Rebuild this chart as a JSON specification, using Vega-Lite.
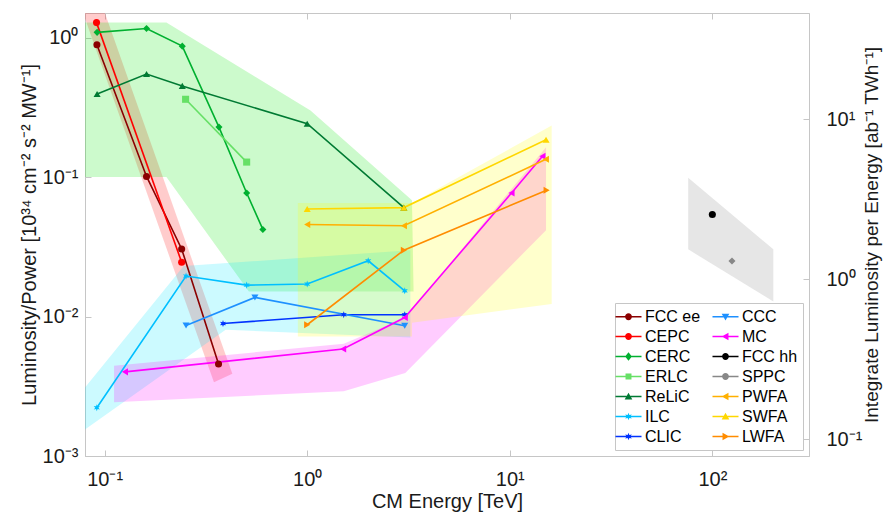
{
  "$schema": "https://vega.github.io/schema/vega-lite/v6.json",
  "width": 724,
  "height": 443,
  "autosize": {"type": "none"},
  "padding": {"left": 85, "top": 13, "right": 74, "bottom": 59},
  "background": "white",
  "config": {
    "font": "Liberation Sans",
    "view": {"stroke": "#c6c6c6", "strokeWidth": 1},
    "axis": {
      "grid": false,
      "domainColor": "#c6c6c6",
      "tickColor": "#c6c6c6",
      "labelColor": "#1a1a1a",
      "titleColor": "#1a1a1a",
      "labelFontSize": 20,
      "titleFontSize": 20,
      "titleFontWeight": "normal",
      "tickSize": -6,
      "labelPadding": 13
    },
    "legend": {
      "orient": "bottom-right",
      "columns": 2,
      "symbolSize": 289,
      "labelFontSize": 16,
      "labelColor": "#000000",
      "labelOffset": 8,
      "rowPadding": 3,
      "columnPadding": 11,
      "padding": 5,
      "strokeColor": "#c6c6c6",
      "fillColor": "white",
      "offset": 6,
      "symbolStrokeWidth": 0
    }
  },
  "datasets": {
    "series": [
      {"s": "FCC ee", "x": 0.0916, "y": 0.887},
      {"s": "FCC ee", "x": 0.161, "y": 0.101},
      {"s": "FCC ee", "x": 0.240, "y": 0.0305},
      {"s": "FCC ee", "x": 0.365, "y": 0.00457},
      {"s": "CEPC", "x": 0.0912, "y": 1.28},
      {"s": "CEPC", "x": 0.240, "y": 0.0245},
      {"s": "CERC", "x": 0.0918, "y": 1.09},
      {"s": "CERC", "x": 0.161, "y": 1.16},
      {"s": "CERC", "x": 0.2417, "y": 0.868},
      {"s": "CERC", "x": 0.3667, "y": 0.228},
      {"s": "CERC", "x": 0.5025, "y": 0.0769},
      {"s": "CERC", "x": 0.604, "y": 0.0421},
      {"s": "ERLC", "x": 0.251, "y": 0.361},
      {"s": "ERLC", "x": 0.5025, "y": 0.128},
      {"s": "ReLiC", "x": 0.0918, "y": 0.394},
      {"s": "ReLiC", "x": 0.161, "y": 0.548},
      {"s": "ReLiC", "x": 0.2417, "y": 0.45},
      {"s": "ReLiC", "x": 1.0, "y": 0.241},
      {"s": "ReLiC", "x": 3.0, "y": 0.0604},
      {"s": "ILC", "x": 0.0915, "y": 0.00222},
      {"s": "ILC", "x": 0.2523, "y": 0.0195},
      {"s": "ILC", "x": 0.5025, "y": 0.0168},
      {"s": "ILC", "x": 1.0, "y": 0.0171},
      {"s": "ILC", "x": 2.0, "y": 0.0251},
      {"s": "ILC", "x": 3.03, "y": 0.0153},
      {"s": "CLIC", "x": 0.384, "y": 0.00891},
      {"s": "CLIC", "x": 1.515, "y": 0.0103},
      {"s": "CLIC", "x": 3.03, "y": 0.0103},
      {"s": "CCC", "x": 0.2523, "y": 0.00863},
      {"s": "CCC", "x": 0.552, "y": 0.0137},
      {"s": "CCC", "x": 3.03, "y": 0.00858},
      {"s": "MC", "x": 0.126, "y": 0.00401},
      {"s": "MC", "x": 1.504, "y": 0.00585},
      {"s": "MC", "x": 3.03, "y": 0.00984},
      {"s": "MC", "x": 10.2, "y": 0.0769},
      {"s": "MC", "x": 14.5, "y": 0.141},
      {"s": "FCC hh", "x": 100, "y": 0.0539},
      {"s": "SPPC", "x": 125, "y": 0.025},
      {"s": "PWFA", "x": 1.0, "y": 0.0457},
      {"s": "PWFA", "x": 3.0, "y": 0.0447},
      {"s": "PWFA", "x": 15.07, "y": 0.134},
      {"s": "SWFA", "x": 1.0, "y": 0.059},
      {"s": "SWFA", "x": 3.0, "y": 0.0604},
      {"s": "SWFA", "x": 15.1, "y": 0.185},
      {"s": "LWFA", "x": 1.0, "y": 0.00873},
      {"s": "LWFA", "x": 3.0, "y": 0.0299},
      {"s": "LWFA", "x": 15.2, "y": 0.0804}
    ],
    "bands": [
      {"b": "ee", "i": 1, "x": 0.0716, "y": 2.16},
      {"b": "ee", "i": 2, "x": 0.0918, "y": 2.16},
      {"b": "ee", "i": 3, "x": 0.427, "y": 0.00388},
      {"b": "ee", "i": 4, "x": 0.3465, "y": 0.00338},
      {"b": "ring", "i": 1, "x": 0.08, "y": 1.28},
      {"b": "ring", "i": 2, "x": 0.2018, "y": 1.28},
      {"b": "ring", "i": 3, "x": 1.038, "y": 0.2996},
      {"b": "ring", "i": 4, "x": 3.29, "y": 0.0682},
      {"b": "ring", "i": 5, "x": 3.35, "y": 0.0151},
      {"b": "ring", "i": 6, "x": 0.5155, "y": 0.0151},
      {"b": "ring", "i": 7, "x": 0.2018, "y": 0.1},
      {"b": "ring", "i": 8, "x": 0.08, "y": 0.1},
      {"b": "lin", "i": 1, "x": 0.08, "y": 0.00155},
      {"b": "lin", "i": 2, "x": 0.08, "y": 0.0031},
      {"b": "lin", "i": 3, "x": 0.2456, "y": 0.023},
      {"b": "lin", "i": 4, "x": 3.23, "y": 0.0299},
      {"b": "lin", "i": 5, "x": 3.23, "y": 0.00708},
      {"b": "lin", "i": 6, "x": 0.3958, "y": 0.00804},
      {"b": "muon", "i": 1, "x": 0.1113, "y": 0.00444},
      {"b": "muon", "i": 2, "x": 1.515, "y": 0.00638},
      {"b": "muon", "i": 3, "x": 3.05, "y": 0.0098},
      {"b": "muon", "i": 4, "x": 15.1, "y": 0.1638},
      {"b": "muon", "i": 5, "x": 15.1, "y": 0.0416},
      {"b": "muon", "i": 6, "x": 3.05, "y": 0.00394},
      {"b": "muon", "i": 7, "x": 1.515, "y": 0.00291},
      {"b": "muon", "i": 8, "x": 0.1113, "y": 0.00243},
      {"b": "wfa", "i": 1, "x": 0.899, "y": 0.0652},
      {"b": "wfa", "i": 2, "x": 3.29, "y": 0.0652},
      {"b": "wfa", "i": 3, "x": 16.1, "y": 0.234},
      {"b": "wfa", "i": 4, "x": 16.1, "y": 0.0123},
      {"b": "wfa", "i": 5, "x": 3.29, "y": 0.00902},
      {"b": "wfa", "i": 6, "x": 3.29, "y": 0.0072},
      {"b": "wfa", "i": 7, "x": 0.899, "y": 0.0072},
      {"b": "hh", "i": 1, "x": 76, "y": 0.099},
      {"b": "hh", "i": 2, "x": 200, "y": 0.0303},
      {"b": "hh", "i": 3, "x": 200, "y": 0.0128},
      {"b": "hh", "i": 4, "x": 76, "y": 0.0303}
    ],
    "axisrow": [{"x": 1, "r": 1}]
  },
  "layer": [
    {
      "layer": [
        {
          "data": {"name": "bands"},
          "mark": {"type": "line", "clip": true, "strokeWidth": 0, "fillOpacity": 0.2, "interpolate": "linear-closed"},
          "encoding": {
            "x": {"field": "x", "type": "quantitative", "scale": {"type": "log", "domain": [0.08, 300], "nice": false}},
            "y": {"field": "y", "type": "quantitative", "scale": {"type": "log", "domain": [0.001, 1.5], "nice": false}},
            "order": {"field": "i", "type": "quantitative"},
            "detail": {"field": "b"},
            "fill": {"field": "b", "type": "nominal", "legend": null,
              "scale": {"domain": ["ee", "ring", "lin", "muon", "wfa", "hh"], "range": ["#ff0000", "#00e600", "#00e6ff", "#ff00ff", "#ffff00", "#808080"]}}
          }
        },
        {
          "data": {"name": "series"},
          "mark": {"type": "line", "strokeWidth": 1.6, "clip": true},
          "encoding": {
            "x": {"field": "x", "type": "quantitative", "scale": {"type": "log", "domain": [0.08, 300], "nice": false}},
            "y": {"field": "y", "type": "quantitative", "scale": {"type": "log", "domain": [0.001, 1.5], "nice": false}},
            "color": {"field": "s", "type": "nominal", "legend": null,
              "scale": {"domain": ["FCC ee", "CEPC", "CERC", "ERLC", "ReLiC", "ILC", "CLIC", "CCC", "MC", "FCC hh", "SPPC", "PWFA", "SWFA", "LWFA"],
                        "range": ["#8b0000", "#ff0000", "#00b030", "#66e066", "#007a33", "#00bfff", "#0033ff", "#1e90ff", "#ff00ff", "#000000", "#888888", "#ffb000", "#ffd700", "#ff8c00"]}}
          }
        },
        {
          "data": {"name": "series"},
          "mark": {"type": "point", "filled": true, "opacity": 1, "size": 50, "clip": true},
          "encoding": {
            "x": {"field": "x", "type": "quantitative", "scale": {"type": "log", "domain": [0.08, 300], "nice": false},
              "axis": {"values": [0.1, 1, 10, 100], "title": "CM Energy [TeV]", "titlePadding": 2, "labelPadding": 19,
                "labelExpr": "round(log(datum.value)/LN10) == -1 ? '10⁻¹' : round(log(datum.value)/LN10) == 0 ? '10⁰' : round(log(datum.value)/LN10) == 1 ? '10¹' : '10²'"}},
            "y": {"field": "y", "type": "quantitative", "scale": {"type": "log", "domain": [0.001, 1.5], "nice": false},
              "axis": {"orient": "left", "values": [0.001, 0.01, 0.1, 1], "title": "Luminosity/Power [10³⁴ cm⁻² s⁻² MW⁻¹]", "titlePadding": 3,
                "labelExpr": "round(log(datum.value)/LN10) == -3 ? '10⁻³' : round(log(datum.value)/LN10) == -2 ? '10⁻²' : round(log(datum.value)/LN10) == -1 ? '10⁻¹' : '10⁰'"}},
            "color": {"field": "s", "type": "nominal", "legend": null,
              "scale": {"domain": ["FCC ee", "CEPC", "CERC", "ERLC", "ReLiC", "ILC", "CLIC", "CCC", "MC", "FCC hh", "SPPC", "PWFA", "SWFA", "LWFA"],
                        "range": ["#8b0000", "#ff0000", "#00b030", "#66e066", "#007a33", "#00bfff", "#0033ff", "#1e90ff", "#ff00ff", "#000000", "#888888", "#ffb000", "#ffd700", "#ff8c00"]}},
            "shape": {"field": "s", "type": "nominal", "legend": null,
              "scale": {"domain": ["FCC ee", "CEPC", "CERC", "ERLC", "ReLiC", "ILC", "CLIC", "CCC", "MC", "FCC hh", "SPPC", "PWFA", "SWFA", "LWFA"],
                        "range": ["circle", "circle", "diamond", "square", "triangle-up",
                          "M0,-1L0.22,-0.39L0.87,-0.5L0.45,0L0.87,0.5L0.22,0.39L0,1L-0.22,0.39L-0.87,0.5L-0.45,0L-0.87,-0.5L-0.22,-0.39Z",
                          "M0,-1L0.22,-0.39L0.87,-0.5L0.45,0L0.87,0.5L0.22,0.39L0,1L-0.22,0.39L-0.87,0.5L-0.45,0L-0.87,-0.5L-0.22,-0.39Z",
                          "triangle-down", "triangle-left", "circle", "diamond", "triangle-left", "triangle-up", "triangle-right"]}}
          }
        }
      ]
    },
    {
      "data": {"name": "series"},
      "mark": {"type": "point", "filled": true, "opacity": 1, "clip": true},
      "encoding": {
        "x": {"datum": 0.001, "type": "quantitative", "axis": null},
        "color": {"field": "s", "type": "nominal", "title": null,
          "scale": {"domain": ["FCC ee", "CEPC", "CERC", "ERLC", "ReLiC", "ILC", "CLIC", "CCC", "MC", "FCC hh", "SPPC", "PWFA", "SWFA", "LWFA"],
                    "range": ["#8b0000", "#ff0000", "#00b030", "#66e066", "#007a33", "#00bfff", "#0033ff", "#1e90ff", "#ff00ff", "#000000", "#888888", "#ffb000", "#ffd700", "#ff8c00"]}},
        "shape": {"field": "s", "type": "nominal", "title": null,
          "scale": {"domain": ["FCC ee", "CEPC", "CERC", "ERLC", "ReLiC", "ILC", "CLIC", "CCC", "MC", "FCC hh", "SPPC", "PWFA", "SWFA", "LWFA"],
                    "range": [
                      "M-1.53,-0.09H1.53V0.09H-1.53ZM-0.4,0A0.4,0.4 0 1,1 0.4,0A0.4,0.4 0 1,1 -0.4,0Z",
                      "M-1.53,-0.09H1.53V0.09H-1.53ZM-0.4,0A0.4,0.4 0 1,1 0.4,0A0.4,0.4 0 1,1 -0.4,0Z",
                      "M-1.53,-0.09H1.53V0.09H-1.53ZM0,-0.5L0.4,0L0,0.5L-0.4,0Z",
                      "M-1.53,-0.09H1.53V0.09H-1.53ZM-0.35,-0.35H0.35V0.35H-0.35Z",
                      "M-1.53,-0.09H1.53V0.09H-1.53ZM0,-0.45L0.45,0.35L-0.45,0.35Z",
                      "M-1.53,-0.09H1.53V0.09H-1.53ZM0,-0.45L0.1,-0.175L0.39,-0.225L0.2,0L0.39,0.225L0.1,0.175L0,0.45L-0.1,0.175L-0.39,0.225L-0.2,0L-0.39,-0.225L-0.1,-0.175Z",
                      "M-1.53,-0.09H1.53V0.09H-1.53ZM0,-0.45L0.1,-0.175L0.39,-0.225L0.2,0L0.39,0.225L0.1,0.175L0,0.45L-0.1,0.175L-0.39,0.225L-0.2,0L-0.39,-0.225L-0.1,-0.175Z",
                      "M-1.53,-0.09H1.53V0.09H-1.53ZM0,0.45L-0.45,-0.35L0.45,-0.35Z",
                      "M-1.53,-0.09H1.53V0.09H-1.53ZM-0.45,0L0.35,-0.45L0.35,0.45Z",
                      "M-1.53,-0.09H1.53V0.09H-1.53ZM-0.4,0A0.4,0.4 0 1,1 0.4,0A0.4,0.4 0 1,1 -0.4,0Z",
                      "M-1.53,-0.09H1.53V0.09H-1.53ZM-0.4,0A0.4,0.4 0 1,1 0.4,0A0.4,0.4 0 1,1 -0.4,0Z",
                      "M-1.53,-0.09H1.53V0.09H-1.53ZM-0.45,0L0.35,-0.45L0.35,0.45Z",
                      "M-1.53,-0.09H1.53V0.09H-1.53ZM0,-0.45L0.45,0.35L-0.45,0.35Z",
                      "M-1.53,-0.09H1.53V0.09H-1.53ZM0.45,0L-0.35,0.45L-0.35,-0.45Z"
                    ]}}
      }
    },
    {
      "data": {"name": "axisrow"},
      "mark": {"type": "point", "opacity": 0},
      "encoding": {
        "x": {"field": "x", "type": "quantitative", "scale": {"type": "log", "domain": [0.08, 300], "nice": false},
          "axis": {"orient": "top", "values": [0.1, 1, 10, 100], "labels": false, "domain": false, "title": null}},
        "y": {"field": "r", "type": "quantitative", "scale": {"type": "log", "domain": [0.0787, 46.1], "nice": false},
          "axis": {"orient": "right", "values": [0.1, 1, 10], "title": "Integrate Luminosity per Energy [ab⁻¹ TWh⁻¹]",
            "labelPadding": 23, "titlePadding": 1, "titleFontSize": 19, "titleAngle": -90, "titleBaseline": "top",
            "labelExpr": "round(log(datum.value)/LN10) == -1 ? '10⁻¹' : round(log(datum.value)/LN10) == 0 ? '10⁰' : '10¹'"}}
      }
    }
  ],
  "resolve": {
    "scale": {"y": "independent", "color": "independent", "shape": "independent"},
    "axis": {"x": "independent"}
  }
}
